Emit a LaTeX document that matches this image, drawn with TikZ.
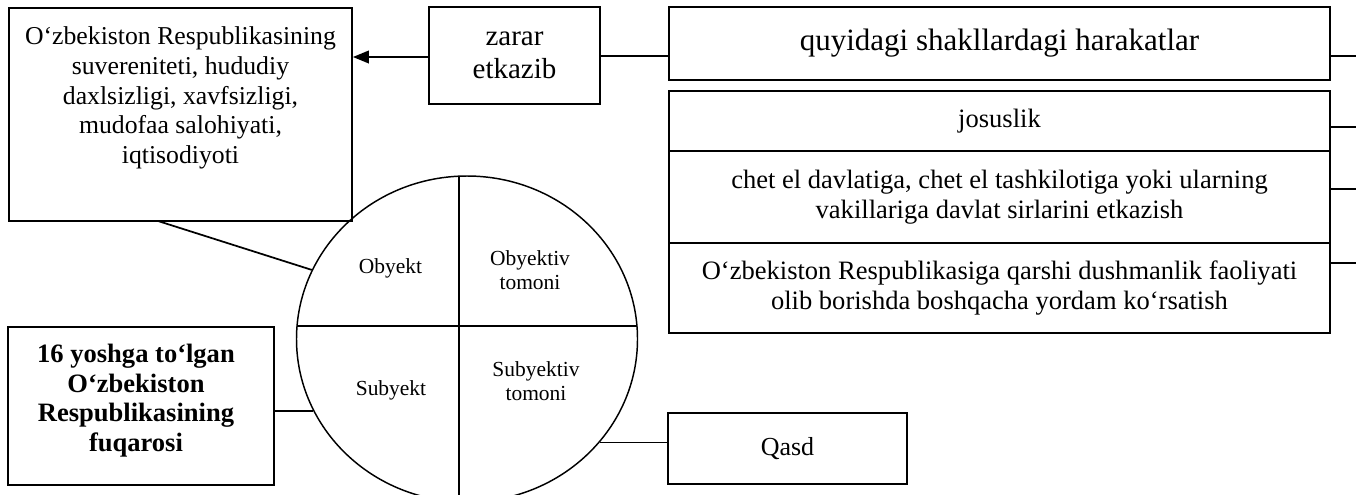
\documentclass[tikz,border=0pt]{standalone}
\usepackage{fontspec}
\setmainfont{Liberation Serif}
\usetikzlibrary{shapes.geometric,arrows.meta}
\begin{document}
\begin{tikzpicture}[x=0.75pt,y=-0.75pt,
  box/.style={draw,line width=1.4pt,rectangle,inner sep=0pt,align=center},
  conn/.style={line width=1.3pt},
  circ/.style={line width=1.1pt},
  txt/.style={inner sep=0pt,align=center}]
\useasboundingbox (0,0) rectangle (1356,494);

% left top box
\node[box,minimum width=343*0.75pt,minimum height=213*0.75pt] (A) at (180.5,114.5) {};
\node[txt,font=\fontsize{19.3}{22.3}\selectfont] (tA) at (180.5,98)
  {O‘zbekiston Respublikasining\\suvereniteti, hududiy\\daxlsizligi, xavfsizligi,\\mudofaa salohiyati,\\iqtisodiyoti};

% zarar etkazib
\node[box,minimum width=171*0.75pt,minimum height=97*0.75pt,font=\fontsize{21.75}{25}\selectfont] (Z) at (514.5,55.5) {zarar\\etkazib};

% quyidagi
\node[box,minimum width=661*0.75pt,minimum height=73*0.75pt,font=\fontsize{23.25}{26}\selectfont] (Q1) at (999.5,43.5) {quyidagi shakllardagi harakatlar};

% stacked rows
\node[box,minimum width=661*0.75pt,minimum height=60*0.75pt,font=\fontsize{19.9}{22.5}\selectfont] (R1) at (999.5,121) {josuslik};
\node[box,minimum width=661*0.75pt,minimum height=92*0.75pt,font=\fontsize{19.9}{22.5}\selectfont] (R2) at (999.5,197) {chet el davlatiga, chet el tashkilotiga yoki ularning\\vakillariga davlat sirlarini etkazish};
\node[box,minimum width=661*0.75pt,minimum height=90*0.75pt,font=\fontsize{19.9}{22.5}\selectfont] (R3) at (999.5,288) {O‘zbekiston Respublikasiga qarshi dushmanlik faoliyati\\olib borishda boshqacha yordam ko‘rsatish};

% left bottom box
\node[box,minimum width=266*0.75pt,minimum height=158*0.75pt] (B) at (141,406) {};
\node[txt,font=\bfseries\fontsize{19.9}{22.3}\selectfont] (tB) at (136,400.5)
  {16 yoshga to‘lgan\\O‘zbekiston\\Respublikasining\\fuqarosi};

% Qasd
\node[box,minimum width=239*0.75pt,minimum height=71*0.75pt,font=\fontsize{19.5}{22}\selectfont] (Qs) at (787.5,448.5) {Qasd};

% circle
\node[draw,circ,ellipse,inner sep=0pt,minimum width=341*0.75pt,minimum height=326*0.75pt] (C) at (467,339) {};
\draw[circ] (297,326) -- (637,326);
\draw[circ] (459,176) -- (459,502);
\node[txt,font=\fontsize{16.1}{18.4}\selectfont] (o1) at (390.5,268) {Obyekt};
\node[txt,font=\fontsize{16.1}{18.4}\selectfont] (o2) at (530,270) {Obyektiv\\tomoni};
\node[txt,font=\fontsize{16.1}{18.4}\selectfont] (s1) at (391,390) {Subyekt};
\node[txt,font=\fontsize{16.1}{18.4}\selectfont] (s2) at (536,381) {Subyektiv\\tomoni};

% free ends on the right
\coordinate (e1) at (1356,56);
\coordinate (e2) at (1356,127);
\coordinate (e3) at (1356,189);
\coordinate (e4) at (1356,263);
\coordinate (a0) at (158,221);

% connectors
\draw[conn,-{Triangle[length=12pt,width=9.5pt]}] (Z.west |- 0,57) -- (A.east |- 0,57);
\draw[conn] (Z.east |- 0,56) -- (Q1.west |- 0,56);
\draw[conn] (Q1.east |- e1) -- (e1);
\draw[conn] (R1.east |- e2) -- (e2);
\draw[conn] (R2.east |- e3) -- (e3);
\draw[conn] (R3.east |- e4) -- (e4);
\draw[conn] (a0) -- (C.156.9);
\draw[conn] (B.east |- C.205.8) -- (C.205.8);
\draw[conn] (C.322.8) -- (C.322.8 -| Qs.west);
\end{tikzpicture}
\end{document}
